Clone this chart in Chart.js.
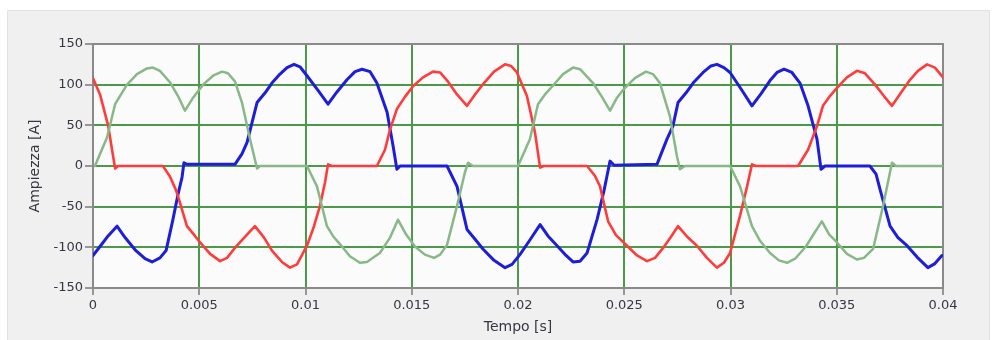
<!DOCTYPE html>
<html>
<head>
<meta charset="utf-8">
<script src="https://cdn.jsdelivr.net/npm/chart.js@4/dist/chart.umd.min.js"></script>
<style>
  html, body { margin: 0; padding: 0; background: #ffffff; }
  #wrap { width: 994px; height: 340px; position: relative; }
</style>
</head>
<body>
<div id="wrap"><canvas id="c" width="994" height="340"></canvas></div>
<script>
// ---- Data (time in s, current in A) ----
const xTicks = [0, 0.005, 0.01, 0.015, 0.02, 0.025, 0.03, 0.035, 0.04];
const yTicks = [-150, -100, -50, 0, 50, 100, 150];

const tGreen = [0.00009,0.00066,0.00104,0.00127,0.0016,0.00207,0.00254,0.00282,0.00315,0.00362,0.004,0.00433,0.00471,0.00518,0.00565,0.00607,0.00635,0.00668,0.00701,0.00739,0.00772,0.00786,
  0.01007,0.01054,0.01101,0.01129,0.01162,0.01209,0.01256,0.01289,0.0135,0.01398,0.01435,0.01473,0.01515,0.01562,0.01605,0.01633,0.01666,0.01713,0.0175,0.01765,0.01788,
  0.02,0.02056,0.02094,0.02127,0.02165,0.02212,0.02259,0.02292,0.02353,0.02395,0.02433,0.02466,0.02499,0.0255,0.02602,0.02635,0.02668,0.02715,0.02748,0.02762,0.02786,
  0.02998,0.03045,0.03101,0.03139,0.03186,0.03228,0.03266,0.03304,0.03355,0.03393,0.0343,0.03464,0.03501,0.03548,0.03595,0.03628,0.03671,0.03718,0.0376,0.03779,0.04];
const vGreen = [0,35,76,86,100,113,120,121,117,103,86,68,84,100,111,116,114,104,78,33,-3,0,
  0,-25,-74,-86,-96,-111,-119,-118,-107,-88,-66,-84,-99,-109,-113,-109,-97,-49,-8,4,0,
  0,33,76,88,99,113,121,119,102,85,68,84,95,108,116,113,102,61,12,-4,0,
  0,-25,-74,-92,-107,-116,-119,-114,-99,-83,-68,-84,-94,-108,-115,-113,-102,-49,4,0,0];

const tBlue = [0,0.00033,0.00071,0.00113,0.00151,0.00198,0.00245,0.00278,0.00315,0.00344,0.00376,0.004,0.00419,0.00428,0.00442,
  0.00668,0.00701,0.00725,0.00748,0.00772,0.0081,0.00842,0.0088,0.00913,0.00946,0.00974,0.01007,0.01059,0.01106,0.01148,0.01195,0.01233,0.01266,0.01304,0.01336,0.01384,0.01412,0.0143,0.01445,
  0.01666,0.01713,0.0176,0.01798,0.01835,0.01887,0.01939,0.01972,0.02009,0.02056,0.02104,0.02141,0.02184,0.02226,0.02259,0.02292,0.02325,0.02372,0.02405,0.02419,0.02433,0.02452,
  0.02654,0.02701,0.02729,0.02753,0.02791,0.02824,0.02871,0.02908,0.02936,0.02969,0.02998,0.03049,0.03101,0.03144,0.03186,0.03219,0.03252,0.03289,0.03327,0.03365,0.03407,0.03426,0.03445,
  0.03656,0.03685,0.03704,0.03751,0.03788,0.03831,0.03878,0.03929,0.03962,0.03995];
const vBlue = [-110,-99,-86,-74,-88,-103,-114,-118,-113,-104,-66,-35,-14,4,2,
  2,15,29,53,78,90,102,113,121,125,122,111,93,76,91,106,116,119,116,102,66,25,-4,0,
  0,-25,-78,-90,-102,-116,-125,-121,-109,-91,-72,-86,-98,-110,-118,-117,-107,-66,-30,-12,6,1,
  2,33,49,78,90,102,115,123,125,121,115,95,74,89,105,115,119,115,102,74,33,-4,0,
  0,-10,-29,-74,-88,-98,-112,-125,-120,-110];

const tRed = [0,0.00033,0.00071,0.00104,0.00118,
  0.00329,0.00362,0.00391,0.00409,0.00442,0.0048,0.00504,0.00551,0.00598,0.00631,0.00673,0.00715,0.00762,0.00805,0.00842,0.00889,0.00927,0.0096,0.01007,0.0104,0.01068,0.01092,0.01106,0.01125,
  0.01336,0.01374,0.01398,0.0143,0.01468,0.01506,0.01553,0.016,0.01633,0.0167,0.01713,0.0176,0.01798,0.0184,0.01887,0.01939,0.01967,0.01995,0.02042,0.0208,0.02104,0.02122,
  0.02325,0.02362,0.02386,0.02424,0.02461,0.02513,0.0256,0.02607,0.02645,0.02682,0.0272,0.02753,0.028,0.02842,0.02889,0.02936,0.02969,0.02998,0.03045,0.03078,0.03101,0.0312,
  0.03318,0.03365,0.03407,0.03435,0.03468,0.03501,0.03548,0.03595,0.03633,0.0368,0.03722,0.0376,0.03802,0.03845,0.03882,0.03925,0.03962,0.04];
const vRed = [108,88,50,-3,0,
  0,-13,-30,-45,-74,-86,-94,-108,-117,-113,-99,-87,-74,-88,-104,-118,-125,-121,-98,-74,-49,-20,2,0,
  0,20,45,70,85,98,109,116,115,104,88,74,88,102,116,125,123,115,86,41,-2,0,
  0,-12,-25,-68,-85,-98,-110,-117,-113,-101,-87,-74,-88,-98,-113,-125,-119,-107,-61,-25,2,0,
  0,20,49,74,86,96,109,117,114,100,86,74,90,106,117,125,121,109];

function pts(t, v) { return t.map((x, i) => ({ x: x, y: v[i] })); }

const AREA = { left: 93, right: 943, top: 44, bottom: 288 };

const bgPlugin = {
  id: 'bg',
  beforeDraw(chart) {
    const ctx = chart.ctx;
    ctx.save();
    ctx.fillStyle = '#ffffff';
    ctx.fillRect(0, 0, chart.width, chart.height);
    ctx.fillStyle = '#f0f0f0';
    ctx.fillRect(7, 10, 983, 330);
    ctx.strokeStyle = '#e2e2e2';
    ctx.lineWidth = 1;
    ctx.beginPath();
    ctx.moveTo(7.5, 340); ctx.lineTo(7.5, 10.5); ctx.lineTo(989.5, 10.5); ctx.lineTo(989.5, 340);
    ctx.stroke();
    const a = chart.chartArea;
    ctx.fillStyle = '#fbfbfb';
    ctx.fillRect(a.left, a.top, a.right - a.left, a.bottom - a.top);
    ctx.restore();
  },
  beforeDatasetsDraw(chart) {
    const ctx = chart.ctx;
    const a = chart.chartArea;
    ctx.save();
    ctx.strokeStyle = '#8a8a8a';
    ctx.lineWidth = 2;
    ctx.strokeRect(a.left, a.top, a.right - a.left, a.bottom - a.top);
    ctx.restore();
  }
};

Chart.defaults.font.family = "'DejaVu Sans', sans-serif";
Chart.defaults.color = '#363644';

new Chart(document.getElementById('c'), {
  type: 'line',
  data: {
    datasets: [
      { label: 'Green', data: pts(tGreen, vGreen), borderColor: '#88b888', borderWidth: 2.5 },
      { label: 'Red', data: pts(tRed, vRed), borderColor: '#ff3c3c', borderWidth: 2.6 },
      { label: 'Blue', data: pts(tBlue, vBlue), borderColor: '#1e1ed8', borderWidth: 3 }
    ]
  },
  options: {
    responsive: false,
    animation: false,
    events: [],
    layout: { padding: { left: 0, right: 994 - AREA.right, top: AREA.top, bottom: 0 } },
    elements: { point: { radius: 0 }, line: { tension: 0, borderCapStyle: 'round', borderJoinStyle: 'round' } },
    plugins: { legend: { display: false }, tooltip: { enabled: false } },
    scales: {
      x: {
        type: 'linear',
        min: 0, max: 0.04,
        afterBuildTicks(s) { s.ticks = xTicks.map(v => ({ value: v })); },
        afterFit(s) { s.height = 340 - AREA.bottom; },
        ticks: {
          font: { size: 13 },
          padding: 3,
          maxRotation: 0,
          autoSkip: false,
          callback: v => String(+(+v).toFixed(3))
        },
        grid: { color: '#4a9a4a', lineWidth: 2, tickColor: '#7a7a7a', tickLength: 7, tickWidth: 1.5 },
        border: { display: false },
        title: { display: true, text: 'Tempo [s]', font: { size: 14 }, padding: { top: 0, bottom: 4 } }
      },
      y: {
        min: -150, max: 150,
        afterBuildTicks(s) { s.ticks = yTicks.map(v => ({ value: v })); },
        afterFit(s) { s.width = AREA.left; },
        ticks: { font: { size: 13 }, padding: 2 },
        grid: { color: '#4a9a4a', lineWidth: 2, tickColor: '#7a7a7a', tickLength: 8, tickWidth: 1.5 },
        border: { display: false },
        title: { display: true, text: 'Ampiezza [A]', font: { size: 14 }, padding: { top: 27, bottom: 0 } }
      }
    }
  },
  plugins: [bgPlugin]
});
</script>
</body>
</html>
